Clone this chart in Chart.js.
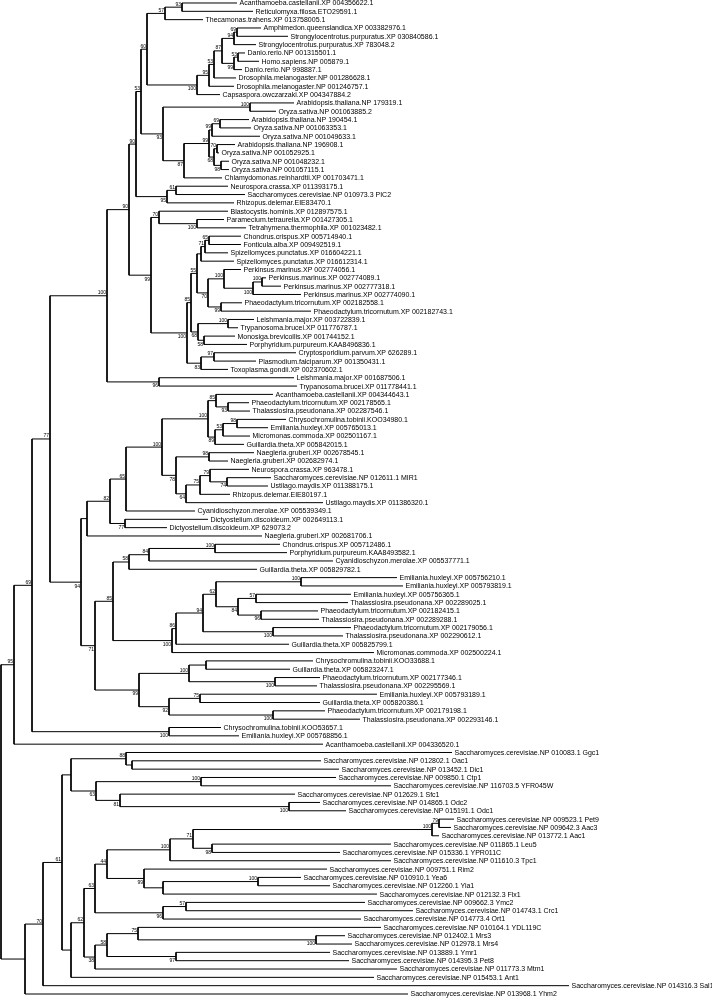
<!DOCTYPE html>
<html>
<head>
<meta charset="utf-8">
<script src="https://cdn.jsdelivr.net/npm/chart.js@4.4.1/dist/chart.umd.min.js"></script>
<style>
  html, body { margin: 0; padding: 0; background: #fff; }
  #wrap { width: 712px; height: 998px; }
</style>
</head>
<body>
<div id="wrap"><canvas id="tree" width="712" height="998"></canvas></div>
<script>
// Leaf labels, top to bottom
const leafNames = [
  'Acanthamoeba.castellanii.XP 004356622.1', 'Reticulomyxa.filosa.ETO29591.1', 'Thecamonas.trahens.XP 013758005.1',
  'Amphimedon.queenslandica.XP 003382976.1', 'Strongylocentrotus.purpuratus.XP 030840586.1', 'Strongylocentrotus.purpuratus.XP 783048.2',
  'Danio.rerio.NP 001315501.1', 'Homo.sapiens.NP 005879.1', 'Danio.rerio.NP 998887.1',
  'Drosophila.melanogaster.NP 001286628.1', 'Drosophila.melanogaster.NP 001246757.1', 'Capsaspora.owczarzaki.XP 004347884.2',
  'Arabidopsis.thaliana.NP 179319.1', 'Oryza.sativa.NP 001063885.2', 'Arabidopsis.thaliana.NP 190454.1',
  'Oryza.sativa.NP 001063353.1', 'Oryza.sativa.NP 001049633.1', 'Arabidopsis.thaliana.NP 196908.1',
  'Oryza.sativa.NP 001052925.1', 'Oryza.sativa.NP 001048232.1', 'Oryza.sativa.NP 001057115.1',
  'Chlamydomonas.reinhardtii.XP 001703471.1', 'Neurospora.crassa.XP 011393175.1', 'Saccharomyces.cerevisiae.NP 010973.3 PIC2',
  'Rhizopus.delemar.EIE83470.1', 'Blastocystis.hominis.XP 012897575.1', 'Paramecium.tetraurelia.XP 001427305.1',
  'Tetrahymena.thermophila.XP 001023482.1', 'Chondrus.crispus.XP 005714940.1', 'Fonticula.alba.XP 009492519.1',
  'Spizellomyces.punctatus.XP 016604221.1', 'Spizellomyces.punctatus.XP 016612314.1', 'Perkinsus.marinus.XP 002774056.1',
  'Perkinsus.marinus.XP 002774089.1', 'Perkinsus.marinus.XP 002777318.1', 'Perkinsus.marinus.XP 002774090.1',
  'Phaeodactylum.tricornutum.XP 002182558.1', 'Phaeodactylum.tricornutum.XP 002182743.1', 'Leishmania.major.XP 003722839.1',
  'Trypanosoma.brucei.XP 011776787.1', 'Monosiga.brevicollis.XP 001744152.1', 'Porphyridium.purpureum.KAA8496836.1',
  'Cryptosporidium.parvum.XP 626289.1', 'Plasmodium.falciparum.XP 001350431.1', 'Toxoplasma.gondii.XP 002370602.1',
  'Leishmania.major.XP 001687506.1', 'Trypanosoma.brucei.XP 011778441.1', 'Acanthamoeba.castellanii.XP 004344643.1',
  'Phaeodactylum.tricornutum.XP 002178565.1', 'Thalassiosira.pseudonana.XP 002287546.1', 'Chrysochromulina.tobinii.KOO34980.1',
  'Emiliania.huxleyi.XP 005765013.1', 'Micromonas.commoda.XP 002501167.1', 'Guillardia.theta.XP 005842015.1',
  'Naegleria.gruberi.XP 002678545.1', 'Naegleria.gruberi.XP 002682974.1', 'Neurospora.crassa.XP 963478.1',
  'Saccharomyces.cerevisiae.NP 012611.1 MIR1', 'Ustilago.maydis.XP 011388175.1', 'Rhizopus.delemar.EIE80197.1',
  'Ustilago.maydis.XP 011386320.1', 'Cyanidioschyzon.merolae.XP 005539349.1', 'Dictyostelium.discoideum.XP 002649113.1',
  'Dictyostelium.discoideum.XP 629073.2', 'Naegleria.gruberi.XP 002681706.1', 'Chondrus.crispus.XP 005712486.1',
  'Porphyridium.purpureum.KAA8493582.1', 'Cyanidioschyzon.merolae.XP 005537771.1', 'Guillardia.theta.XP 005829782.1',
  'Emiliania.huxleyi.XP 005756210.1', 'Emiliania.huxleyi.XP 005793819.1', 'Emiliania.huxleyi.XP 005756365.1',
  'Thalassiosira.pseudonana.XP 002289025.1', 'Phaeodactylum.tricornutum.XP 002182415.1', 'Thalassiosira.pseudonana.XP 002289288.1',
  'Phaeodactylum.tricornutum.XP 002179056.1', 'Thalassiosira.pseudonana.XP 002290612.1', 'Guillardia.theta.XP 005825799.1',
  'Micromonas.commoda.XP 002500224.1', 'Chrysochromulina.tobinii.KOO33688.1', 'Guillardia.theta.XP 005823247.1',
  'Phaeodactylum.tricornutum.XP 002177346.1', 'Thalassiosira.pseudonana.XP 002295569.1', 'Emiliania.huxleyi.XP 005793189.1',
  'Guillardia.theta.XP 005820386.1', 'Phaeodactylum.tricornutum.XP 002179198.1', 'Thalassiosira.pseudonana.XP 002293146.1',
  'Chrysochromulina.tobinii.KOO53657.1', 'Emiliania.huxleyi.XP 005768856.1', 'Acanthamoeba.castellanii.XP 004336520.1',
  'Saccharomyces.cerevisiae.NP 010083.1 Ggc1', 'Saccharomyces.cerevisiae.NP 012802.1 Oac1', 'Saccharomyces.cerevisiae.NP 013452.1 Dic1',
  'Saccharomyces.cerevisiae.NP 009850.1 Ctp1', 'Saccharomyces.cerevisiae.NP 116703.5 YFR045W', 'Saccharomyces.cerevisiae.NP 012629.1 Sfc1',
  'Saccharomyces.cerevisiae.NP 014865.1 Odc2', 'Saccharomyces.cerevisiae.NP 015191.1 Odc1', 'Saccharomyces.cerevisiae.NP 009523.1 Pet9',
  'Saccharomyces.cerevisiae.NP 009642.3 Aac3', 'Saccharomyces.cerevisiae.NP 013772.1 Aac1', 'Saccharomyces.cerevisiae.NP 011865.1 Leu5',
  'Saccharomyces.cerevisiae.NP 015336.1 YPR011C', 'Saccharomyces.cerevisiae.NP 011610.3 Tpc1', 'Saccharomyces.cerevisiae.NP 009751.1 Rim2',
  'Saccharomyces.cerevisiae.NP 010910.1 Yea6', 'Saccharomyces.cerevisiae.NP 012260.1 Yia1', 'Saccharomyces.cerevisiae.NP 012132.3 Flx1',
  'Saccharomyces.cerevisiae.NP 009662.3 Ymc2', 'Saccharomyces.cerevisiae.NP 014743.1 Crc1', 'Saccharomyces.cerevisiae.NP 014773.4 Ort1',
  'Saccharomyces.cerevisiae.NP 010164.1 YDL119C', 'Saccharomyces.cerevisiae.NP 012402.1 Mrs3', 'Saccharomyces.cerevisiae.NP 012978.1 Mrs4',
  'Saccharomyces.cerevisiae.NP 013889.1 Ymr1', 'Saccharomyces.cerevisiae.NP 014395.3 Pet8', 'Saccharomyces.cerevisiae.NP 011773.3 Mtm1',
  'Saccharomyces.cerevisiae.NP 015453.1 Ant1', 'Saccharomyces.cerevisiae.NP 014316.3 Sal1', 'Saccharomyces.cerevisiae.NP 013968.1 Yhm2'
];

// Depth (tree axis) where each leaf branch ends, same order as leafNames
const leafEnds = [
  237, 253, 203, 261, 288, 256, 245, 259, 242, 236,
  234, 220, 294, 276, 249, 251, 260, 235, 219, 229,
  229, 222, 228, 245, 234, 228, 224, 246, 241, 241,
  228, 234, 241, 266, 281, 301, 242, 311, 254, 238,
  235, 247, 296, 256, 228, 294, 297, 273, 249, 250,
  286, 268, 250, 244, 254, 228, 249, 271, 268, 230,
  323, 195, 208, 167, 262, 280, 287, 333, 257, 397,
  403, 351, 348, 318, 319, 351, 343, 289, 374, 313,
  290, 320, 317, 377, 320, 325, 360, 221, 239, 323,
  452, 321, 339, 336, 391, 295, 320, 346, 454, 451,
  439, 391, 340, 391, 327, 301, 330, 377, 365, 413,
  361, 381, 345, 352, 330, 349, 397, 374, 569, 408
];

// Topology, newick-like. Numbers inside brackets are 1-based leaf numbers.
// After a closing bracket: bootstrap value (may be empty) then "@" and the node depth.
const cladeOpisth = '(((1,2)93@182,3)57@165,((((((4,5)69@237,6)94@234,((7,8)53@238,9)99@234)87@222,10)53@214,11)95@209,12)100@197)60@147';
const cladePlants = '((13,14)100@250,((((15,16)69@220,17)99@212,((18,19)70@217,(20,21)98@221)68@214)99@209,22)87@184)93@163';
const cladeFungi = '((23,24)61@176,25)95@167';
const cladeMixed = '((26,(27,28)100@197)70@159,((((((29,30)65@209,31)71@205,32)@201,((33,((34,35)100@262,36)100@253)100@224,(37,38)99@221)70@208)55@197,((39,40)100@228,(41,42)58@204)68@198)85@191,((43,44)97@214,45)83@201)100@187)99@151';
const cladeUpper = '((((' + cladeOpisth + ',' + cladePlants + ')53@141,' + cladeFungi + ')90@136,' + cladeMixed + ')90@129,(46,47)96@159)100@107';

const cladeStram = '((48,(49,50)93@228)85@216,(((51,52)98@237,53)53@223,54)89@215)100@208';
const cladeFungi2 = '((55,56)98@209,(((57,(58,59)74@227)79@210,60)75@200,61)64@186)78@176';
const cladeMito = '((((' + cladeStram + ',' + cladeFungi2 + ')100@162,62)65@126,(63,64)77@125)82@110,65)@87';
const cladeRed = '(((66,67)100@215,68)84@149,69)58@129';
const cladeDiatom = '(((((70,71)100@301,((72,73)57@256,(74,75)96@261)84@238)62@216,(76,77)100@273)94@203,78)86@176,79)100@172';
const cladeHapto = '(((80,81)@206,(82,83)100@275)100@189,((84,85)75@200,(86,87)100@273)92@169)99@139';
const cladeLower = '(' + cladeMito + ',((' + cladeRed + ',' + cladeDiatom + ')85@113,' + cladeHapto + ')71@95)94@81';

const cladeYeastA = '((91,(92,93)@132)88@126,((94,95)100@201,(96,(97,98)100@289)81@120)63@96)@71';
const cladeYeastB = '((((((99,100)79@439,101)100@432,(102,103)98@212)71@193,104)100@170,(105,((106,107)100@258,108)@163)99@144)44@107,((109,110)57@186,111)96@163)63@95';
const cladeYeastC = '(((112,(113,114)100@316)75@138,(115,116)97@176)58@107,117)38@95';
const cladeYeast = '(((' + cladeYeastA + ',((' + cladeYeastB + ',' + cladeYeastC + ')62@84,118)@71)61@62,119)70@43,120)@25';

const treeString = '((((' + cladeUpper + ',' + cladeLower + ')77@50,(88,89)100@169)69@32,90)95@14,' + cladeYeast + ')@1';

function parseTree(str) {
  let pos = 0;
  function readNumber() {
    const start = pos;
    while (pos < str.length && /[0-9.]/.test(str[pos])) pos++;
    return str.slice(start, pos);
  }
  function node() {
    if (str[pos] === '(') {
      pos++;
      const kids = [node()];
      while (str[pos] === ',') { pos++; kids.push(node()); }
      pos++; // ')'
      const support = readNumber();
      pos++; // '@'
      const x = parseFloat(readNumber());
      const n = { kids, support, x };
      kids.forEach(k => k.parent = n);
      n.y = (kids[0].y + kids[kids.length - 1].y) / 2;
      return n;
    }
    const leaf = parseInt(readNumber(), 10) - 1;
    return { leaf, x: leafEnds[leaf], y: leaf };
  }
  return node();
}

const root = parseTree(treeString);
const leaves = [];
const inner = [];
(function walk(n) {
  if (n.kids) { inner.push(n); n.kids.forEach(walk); } else leaves.push(n);
})(root);
if (leaves.length !== leafNames.length) console.warn('leaf count', leaves.length);

// Elbow for every internal node: top child -> node -> bottom child
const branchPoints = [];
inner.forEach(n => {
  const a = n.kids[0], b = n.kids[n.kids.length - 1];
  branchPoints.push({ x: a.x, y: a.y }, { x: n.x, y: a.y }, { x: n.x, y: b.y }, { x: b.x, y: b.y }, { x: null, y: null });
});

const treeLabels = {
  id: 'treeLabels',
  afterDatasetsDraw(chart) {
    const { ctx, scales } = chart;
    const sx = scales.x, sy = scales.y;
    ctx.save();
    ctx.fillStyle = '#000';
    ctx.font = '7px Arial, "Liberation Sans", sans-serif';
    ctx.textAlign = 'left';
    ctx.textBaseline = 'middle';
    leaves.forEach(n => {
      ctx.fillText(leafNames[n.leaf], sx.getPixelForValue(n.x) + 2.5, sy.getPixelForValue(n.y) + 0.5);
    });
    ctx.font = '5px Arial, "Liberation Sans", sans-serif';
    ctx.textAlign = 'right';
    inner.forEach(n => {
      if (!n.support) return;
      const px = sx.getPixelForValue(n.x) - 1;
      const py = sy.getPixelForValue(n.y);
      const upper = !n.parent || n.parent.kids[0] === n;
      if (upper) {
        ctx.textBaseline = 'alphabetic';
        ctx.fillText(n.support, px, py - 1.5);
      } else {
        ctx.textBaseline = 'top';
        ctx.fillText(n.support, px, py + 1.5);
      }
    });
    ctx.restore();
  }
};

new Chart(document.getElementById('tree').getContext('2d'), {
  type: 'line',
  data: {
    datasets: [{
      label: 'branches',
      data: branchPoints,
      borderColor: '#000',
      borderWidth: 1,
      pointRadius: 0,
      tension: 0,
      spanGaps: false,
      fill: false
    }]
  },
  options: {
    responsive: false,
    animation: false,
    devicePixelRatio: 1,
    layout: { padding: 0 },
    plugins: { legend: { display: false }, tooltip: { enabled: false } },
    scales: {
      x: { type: 'linear', min: 0, max: 712, display: false },
      y: { type: 'linear', min: -0.36, max: 119.48, reverse: true, display: false }
    }
  },
  plugins: [treeLabels]
});
</script>
</body>
</html>
